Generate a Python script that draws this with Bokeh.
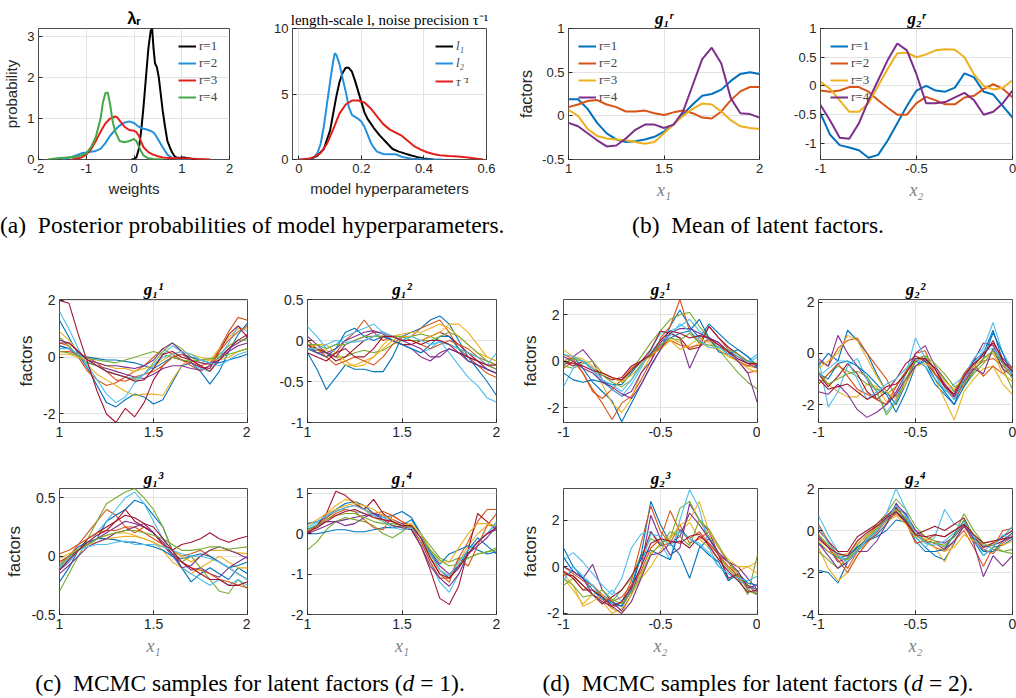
from bokeh.plotting import figure
from bokeh.models import Range1d, Legend, LegendItem, CustomJSTickFormatter, Div, ColumnDataSource
from bokeh.layouts import row, column
from bokeh.embed import file_html
from bokeh.resources import INLINE

# ---------------- data: (a) posterior densities ----------------
LAM1_X = [-0.05, 0.0, 0.05, 0.1, 0.15, 0.2, 0.25, 0.3, 0.35, 0.38, 0.41, 0.44, 0.48, 0.52, 0.56, 0.6, 0.65, 0.7, 0.75, 0.8, 0.85, 0.9, 0.95, 1.0, 1.05, 1.1, 1.2, 1.3]
LAM1_Y = [0, 0.01, 0.05, 0.25, 0.7, 1.3, 2.0, 2.7, 3.15, 3.2, 2.7, 2.35, 2.25, 2.0, 1.6, 1.2, 0.8, 0.45, 0.3, 0.17, 0.08, 0.04, 0.04, 0.05, 0.05, 0.04, 0.02, 0]
LAM2_X = [-1.5, -1.3, -1.1, -0.9, -0.8, -0.7, -0.6, -0.5, -0.4, -0.3, -0.2, -0.1, 0.0, 0.1, 0.2, 0.3, 0.4, 0.45, 0.5, 0.6, 0.7, 0.8, 0.9, 1.0, 1.2]
LAM2_Y = [0, 0.06, 0.15, 0.19, 0.21, 0.26, 0.4, 0.58, 0.72, 0.83, 0.9, 0.93, 0.89, 0.8, 0.75, 0.72, 0.67, 0.6, 0.5, 0.3, 0.12, 0.04, 0.02, 0.01, 0]
LAM3_X = [-1.3, -1.1, -1.0, -0.9, -0.8, -0.7, -0.6, -0.5, -0.4, -0.35, -0.3, -0.2, -0.1, 0.0, 0.05, 0.1, 0.15, 0.2, 0.3, 0.4, 0.5, 0.6, 0.8, 1.0, 1.2, 1.6]
LAM3_Y = [0, 0.05, 0.12, 0.25, 0.45, 0.68, 0.88, 1.0, 1.05, 1.03, 0.95, 0.8, 0.72, 0.7, 0.67, 0.58, 0.43, 0.3, 0.18, 0.12, 0.08, 0.05, 0.03, 0.03, 0.02, 0]
LAM4_X = [-1.8, -1.6, -1.4, -1.2, -1.1, -1.0, -0.9, -0.8, -0.7, -0.65, -0.6, -0.55, -0.5, -0.45, -0.4, -0.3, -0.2, -0.1, 0.0, 0.05, 0.1, 0.15, 0.2, 0.3, 0.4, 0.6]
LAM4_Y = [0, 0.03, 0.05, 0.07, 0.1, 0.15, 0.3, 0.55, 1.0, 1.4, 1.62, 1.64, 1.35, 0.95, 0.7, 0.45, 0.42, 0.45, 0.5, 0.45, 0.32, 0.2, 0.1, 0.03, 0.01, 0]

L1_X = [0.02, 0.04, 0.06, 0.08, 0.1, 0.11, 0.12, 0.13, 0.14, 0.15, 0.16, 0.17, 0.18, 0.19, 0.2, 0.21, 0.22, 0.24, 0.26, 0.28, 0.3, 0.32, 0.34, 0.36, 0.38, 0.4, 0.43]
L1_Y = [0, 0.05, 0.3, 0.8, 2.2, 3.5, 4.8, 5.9, 6.6, 7.0, 7.0, 6.7, 6.0, 5.2, 4.4, 3.6, 3.1, 2.4, 1.8, 1.3, 0.8, 0.6, 0.45, 0.3, 0.18, 0.08, 0]
L2_X = [0.03, 0.05, 0.06, 0.07, 0.08, 0.09, 0.1, 0.11, 0.115, 0.12, 0.13, 0.14, 0.15, 0.16, 0.17, 0.18, 0.19, 0.2, 0.21, 0.22, 0.23, 0.24, 0.25, 0.27, 0.29, 0.31, 0.33, 0.36, 0.4, 0.46]
L2_Y = [0, 0.2, 0.5, 1.2, 2.5, 4.2, 5.9, 7.5, 8.1, 8.0, 7.3, 6.2, 5.2, 4.0, 3.4, 3.25, 3.1, 2.9, 2.5, 1.9, 1.3, 0.9, 0.6, 0.42, 0.4, 0.4, 0.2, 0.05, 0.02, 0]
TAU_X = [0.0, 0.03, 0.05, 0.07, 0.09, 0.11, 0.13, 0.15, 0.17, 0.19, 0.21, 0.23, 0.25, 0.27, 0.29, 0.31, 0.33, 0.35, 0.37, 0.39, 0.41, 0.43, 0.45, 0.48, 0.51, 0.54, 0.57, 0.59]
TAU_Y = [0, 0.05, 0.2, 0.5, 1.2, 2.3, 3.5, 4.2, 4.5, 4.5, 4.35, 3.9, 3.3, 2.7, 2.3, 2.05, 1.8, 1.4, 1.0, 0.75, 0.55, 0.42, 0.33, 0.26, 0.22, 0.15, 0.06, 0]

# ---------------- grids ----------------
X1 = [1.0, 1.05, 1.1, 1.15, 1.2, 1.25, 1.3, 1.35, 1.4, 1.45, 1.5, 1.55, 1.6, 1.65, 1.7, 1.75, 1.8, 1.85, 1.9, 1.95, 2.0]
X2 = [-1.0, -0.95, -0.9, -0.85, -0.8, -0.75, -0.7, -0.65, -0.6, -0.55, -0.5, -0.45, -0.4, -0.35, -0.3, -0.25, -0.2, -0.15, -0.1, -0.05, 0.0]

# ---------------- (b) mean of latent factors ----------------
G1R = [
    [0.19, 0.19, 0.08, -0.08, -0.2, -0.27, -0.3, -0.29, -0.27, -0.24, -0.18, -0.1, 0.02, 0.13, 0.23, 0.25, 0.3, 0.4, 0.48, 0.5, 0.48],
    [0.1, 0.13, 0.17, 0.18, 0.13, 0.1, 0.05, 0.05, 0.06, 0.03, 0.01, 0.04, 0.06, 0.03, -0.02, -0.03, 0.05, 0.18, 0.28, 0.33, 0.33],
    [0.07, 0.0, -0.15, -0.23, -0.26, -0.27, -0.28, -0.3, -0.32, -0.3, -0.2, -0.1, 0.0, 0.08, 0.14, 0.13, 0.05, -0.05, -0.12, -0.14, -0.15],
    [-0.08, -0.12, -0.2, -0.28, -0.35, -0.34, -0.26, -0.16, -0.1, -0.1, -0.14, -0.1, 0.05, 0.35, 0.65, 0.78, 0.6, 0.2, 0.03, 0.02, -0.02],
]
G2R = [
    [-0.48, -0.85, -1.03, -1.07, -1.12, -1.25, -1.2, -0.95, -0.65, -0.35, -0.08, 0.0, -0.08, -0.1, -0.03, 0.22, 0.15, -0.1, -0.15, -0.35, -0.55],
    [-0.08, -0.1, -0.08, -0.02, -0.02, -0.1, -0.25, -0.38, -0.5, -0.5, -0.3, -0.19, -0.25, -0.32, -0.32, -0.2, -0.17, -0.05, 0.03, -0.05, -0.2],
    [0.07, -0.05, -0.25, -0.45, -0.45, -0.3, 0.0, 0.3, 0.57, 0.58, 0.5, 0.55, 0.62, 0.64, 0.63, 0.5, 0.2, 0.0, -0.06, -0.03, 0.1],
    [-0.33, -0.6, -0.9, -0.92, -0.65, -0.25, 0.1, 0.45, 0.74, 0.62, 0.2, -0.3, -0.3, -0.28, -0.2, -0.12, -0.25, -0.5, -0.45, -0.3, -0.08],
]

# ---------------- (c) MCMC samples, d = 1 ----------------
G11 = [
    [1.3, 0.7, 0.1, -0.4, -1.0, -1.6, -1.75, -1.5, -1.3, -1.4, -1.65, -1.5, -0.9, -0.3, -0.2, -0.5, -0.95, -0.5, 0.2, 0.8, 1.2],
    [0.5, 0.4, 0.0, -0.5, -0.8, -1.0, -0.9, -0.7, -0.5, -0.3, 0.0, 0.3, 0.1, -0.1, -0.3, -0.5, -0.3, 0.3, 0.9, 1.4, 1.3],
    [0.9, 0.6, 0.2, -0.3, -0.6, -0.8, -1.0, -1.2, -1.35, -1.3, -1.3, -1.35, -0.8, -0.3, 0.0, -0.2, -0.1, 0.3, 0.7, 1.0, 1.0],
    [0.4, 0.3, 0.0, -0.2, -0.3, -0.4, -0.5, -0.6, -0.7, -0.75, -0.6, -0.4, -0.3, -0.3, -0.4, -0.45, -0.3, 0.0, 0.3, 0.5, 0.7],
    [0.7, 0.4, 0.0, -0.2, -0.3, -0.5, -0.6, -0.7, -0.8, -0.6, -0.2, 0.2, 0.5, 0.3, 0.0, -0.1, -0.2, 0.1, 0.4, 0.6, 0.6],
    [1.6, 1.0, 0.3, -0.3, -0.8, -1.3, -1.6, -1.4, -0.9, -0.6, -0.3, 0.1, 0.4, 0.2, -0.2, -0.4, -0.5, 0.0, 0.5, 1.1, 0.9],
    [2.0, 1.9, 0.8, -0.2, -1.2, -2.0, -2.3, -1.8, -2.1, -1.6, -0.8, -0.3, 0.0, -0.1, -0.2, -0.35, -0.4, 0.2, 0.8, 1.1, 0.7],
    [0.4, 0.3, 0.1, 0.0, -0.05, -0.1, -0.1, -0.15, -0.2, -0.3, -0.4, -0.2, 0.0, 0.1, 0.0, -0.1, -0.2, -0.2, -0.1, 0.0, 0.1],
    [0.2, 0.2, 0.1, 0.0, -0.2, -0.5, -0.8, -0.85, -0.7, -0.6, -0.5, -0.3, 0.0, 0.1, -0.1, -0.3, -0.2, 0.2, 0.6, 0.9, 1.1],
    [0.1, 0.1, 0.0, -0.1, -0.2, -0.3, -0.4, -0.4, -0.5, -0.4, -0.3, -0.1, 0.1, 0.2, 0.1, 0.0, -0.1, -0.1, 0.0, 0.2, 0.3],
    [0.6, 0.5, 0.2, -0.1, -0.2, -0.3, -0.3, -0.35, -0.4, -0.3, -0.1, 0.3, 0.5, 0.2, -0.1, -0.2, -0.25, -0.1, 0.2, 0.4, 0.5],
    [0.2, 0.15, 0.05, -0.05, -0.1, -0.15, -0.2, -0.1, 0.0, 0.1, 0.2, 0.1, 0.0, -0.1, -0.15, -0.1, -0.05, 0.0, 0.1, 0.2, 0.3],
    [0.3, 0.3, 0.1, -0.1, -0.3, -0.5, -0.6, -0.7, -0.75, -0.6, -0.3, 0.0, 0.1, 0.2, 0.1, -0.1, -0.2, -0.3, -0.1, 0.1, 0.2],
    [0.5, 0.5, 0.2, -0.1, -0.3, -0.5, -0.6, -0.7, -0.85, -0.8, -0.4, 0.1, 0.2, 0.0, -0.1, -0.3, -0.5, -0.1, 0.3, 0.6, 0.8],
]
G12 = [
    [-0.15, -0.35, -0.6, -0.45, -0.3, -0.35, -0.35, -0.38, -0.38, -0.2, 0.05, 0.1, 0.15, 0.25, 0.3, 0.2, 0.0, -0.2, -0.35, -0.5, -0.67],
    [-0.1, -0.15, -0.2, -0.15, 0.0, 0.1, 0.25, 0.1, 0.0, 0.05, 0.0, 0.05, 0.15, 0.2, 0.25, 0.1, -0.1, -0.2, -0.3, -0.4, -0.45],
    [-0.05, -0.1, -0.12, -0.2, -0.3, -0.3, -0.25, -0.2, -0.05, 0.05, 0.08, 0.1, 0.1, 0.15, 0.2, 0.15, 0.05, -0.05, -0.15, -0.2, -0.25],
    [0.05, -0.05, -0.15, -0.1, 0.0, 0.05, 0.1, 0.12, 0.08, 0.0, -0.05, -0.1, -0.2, -0.25, -0.15, -0.1, -0.15, -0.2, -0.25, -0.3, -0.35],
    [-0.1, -0.12, -0.15, -0.2, -0.2, -0.15, -0.12, -0.15, -0.12, -0.05, 0.0, 0.05, 0.08, 0.05, 0.0, -0.05, -0.1, -0.15, -0.2, -0.3, -0.35],
    [0.17, 0.05, -0.1, -0.05, 0.05, 0.1, 0.15, 0.2, 0.1, 0.0, -0.05, -0.1, -0.15, -0.1, 0.0, -0.15, -0.3, -0.45, -0.55, -0.7, -0.75],
    [-0.05, -0.1, -0.15, -0.25, -0.2, -0.1, 0.0, 0.05, 0.05, 0.0, -0.05, -0.05, 0.0, 0.05, 0.1, 0.05, -0.05, -0.15, -0.25, -0.35, -0.4],
    [-0.1, -0.15, -0.2, -0.1, 0.1, 0.15, 0.05, 0.0, 0.05, 0.0, -0.05, -0.1, -0.15, -0.05, 0.05, 0.05, -0.1, -0.25, -0.3, -0.35, -0.4],
    [0.0, -0.1, -0.2, -0.3, -0.25, -0.2, -0.25, -0.3, -0.2, -0.05, 0.05, 0.0, -0.05, -0.1, -0.05, 0.0, -0.05, -0.1, -0.2, -0.25, -0.3],
    [-0.1, -0.05, -0.05, -0.15, -0.25, -0.32, -0.3, -0.2, -0.1, 0.0, 0.05, 0.05, 0.0, 0.05, 0.1, 0.2, 0.2, 0.1, -0.05, -0.2, -0.25],
    [-0.05, -0.15, -0.15, -0.2, -0.05, 0.0, 0.05, 0.1, 0.1, 0.05, 0.0, -0.05, -0.1, -0.2, -0.2, -0.1, -0.15, -0.25, -0.3, -0.35, -0.4],
    [-0.05, -0.05, -0.1, -0.05, -0.05, 0.0, 0.05, 0.05, 0.05, 0.05, 0.05, 0.0, 0.0, 0.0, 0.05, 0.1, 0.05, -0.05, -0.15, -0.25, -0.3],
    [-0.1, -0.1, -0.05, 0.0, -0.02, -0.02, 0.0, 0.05, 0.1, 0.05, 0.0, 0.05, 0.0, -0.05, -0.02, -0.05, -0.1, -0.15, -0.2, -0.3, -0.15],
    [-0.15, -0.2, -0.25, -0.15, -0.1, -0.2, -0.2, -0.1, 0.05, 0.05, 0.0, 0.0, -0.05, 0.0, 0.0, -0.05, -0.15, -0.2, -0.25, -0.3, -0.3],
]
G13 = [
    [-0.22, -0.1, 0.05, 0.1, 0.15, 0.3, 0.35, 0.4, 0.48, 0.45, 0.35, 0.25, 0.05, -0.1, -0.22, -0.15, -0.1, -0.15, -0.2, -0.1, -0.15],
    [0.02, 0.05, 0.1, 0.2, 0.3, 0.4, 0.35, 0.25, 0.2, 0.25, 0.2, 0.1, 0.05, 0.0, 0.02, 0.05, 0.0, -0.05, -0.1, -0.15, -0.2],
    [-0.1, 0.0, 0.05, 0.1, 0.15, 0.18, 0.2, 0.2, 0.18, 0.15, 0.12, 0.05, -0.05, -0.1, -0.15, -0.1, -0.05, 0.0, -0.05, -0.1, -0.1],
    [-0.12, -0.05, 0.05, 0.1, 0.15, 0.2, 0.25, 0.3, 0.28, 0.25, 0.2, 0.1, 0.0, -0.05, -0.12, -0.1, -0.15, -0.18, -0.1, -0.05, 0.0],
    [-0.3, -0.15, 0.0, 0.15, 0.3, 0.45, 0.5, 0.55, 0.58, 0.5, 0.4, 0.25, 0.05, -0.05, 0.0, -0.1, -0.2, -0.3, -0.32, -0.2, -0.28],
    [-0.1, -0.05, 0.05, 0.1, 0.2, 0.3, 0.4, 0.5, 0.55, 0.45, 0.3, 0.15, 0.0, -0.1, -0.15, -0.2, -0.25, -0.2, -0.25, -0.2, -0.25],
    [-0.05, 0.0, 0.05, 0.15, 0.2, 0.25, 0.3, 0.4, 0.3, 0.25, 0.2, 0.1, 0.05, 0.1, 0.12, 0.15, 0.2, 0.15, 0.12, 0.15, 0.17],
    [-0.08, 0.0, 0.08, 0.12, 0.15, 0.15, 0.14, 0.12, 0.12, 0.1, 0.08, 0.05, 0.0, -0.02, 0.0, 0.02, 0.0, -0.05, -0.1, -0.08, -0.05],
    [-0.05, 0.0, 0.1, 0.15, 0.2, 0.22, 0.22, 0.25, 0.25, 0.2, 0.15, 0.1, 0.02, -0.05, -0.1, -0.12, -0.15, -0.2, -0.22, -0.25, -0.27],
    [-0.02, 0.02, 0.06, 0.1, 0.12, 0.15, 0.16, 0.17, 0.17, 0.15, 0.12, 0.08, 0.05, 0.0, -0.05, 0.0, 0.05, 0.05, 0.05, 0.03, 0.02],
    [-0.15, -0.08, 0.0, 0.08, 0.12, 0.15, 0.2, 0.22, 0.25, 0.28, 0.2, 0.12, 0.02, -0.1, -0.08, 0.0, 0.05, 0.08, 0.05, 0.02, -0.02],
    [-0.08, 0.0, 0.06, 0.1, 0.15, 0.18, 0.2, 0.22, 0.22, 0.2, 0.18, 0.15, 0.1, 0.05, 0.05, 0.06, 0.08, 0.08, 0.06, 0.07, 0.08],
    [-0.1, -0.02, 0.05, 0.08, 0.1, 0.1, 0.12, 0.13, 0.1, 0.1, 0.1, 0.08, 0.05, 0.02, 0.0, 0.0, -0.02, -0.05, -0.1, -0.15, -0.2],
    [-0.12, -0.03, 0.05, 0.12, 0.18, 0.22, 0.3, 0.35, 0.33, 0.28, 0.25, 0.15, 0.05, -0.05, -0.1, -0.15, -0.2, -0.2, -0.25, -0.25, -0.22],
]
G14 = [
    [0.25, 0.3, 0.4, 0.6, 0.75, 0.8, 0.7, 0.5, 0.4, 0.45, 0.55, 0.4, 0.0, -0.5, -0.9, -1.1, -0.8, -0.4, -0.1, -0.3, -0.5],
    [0.1, 0.2, 0.4, 0.55, 0.65, 0.7, 0.6, 0.5, 0.55, 0.45, 0.3, 0.2, -0.1, -0.6, -1.0, -1.2, -0.6, -0.2, 0.3, 0.6, 0.6],
    [0.0, 0.2, 0.5, 0.7, 0.85, 0.8, 0.6, 0.4, 0.3, 0.2, 0.15, 0.1, -0.2, -0.6, -0.9, -1.05, -0.7, -0.3, 0.0, 0.2, 0.2],
    [0.0, 0.1, 0.2, 0.3, 0.35, 0.4, 0.45, 0.5, 0.45, 0.35, 0.25, 0.2, -0.1, -0.5, -0.8, -1.0, -0.8, -0.5, -0.2, 0.0, 0.1],
    [-0.4, -0.2, 0.1, 0.3, 0.4, 0.35, 0.3, 0.2, 0.0, -0.1, 0.05, 0.2, 0.0, -0.3, -0.6, -0.7, -0.6, -0.6, -0.5, -0.45, -0.4],
    [0.1, 0.25, 0.45, 0.6, 0.6, 0.55, 0.5, 0.45, 0.4, 0.3, 0.2, 0.15, -0.2, -0.7, -1.2, -1.45, -1.0, -0.5, -0.2, 0.0, 0.25],
    [0.0, 0.2, 0.5, 1.05, 0.95, 0.75, 0.6, 0.85, 0.5, 0.3, 0.2, 0.1, -0.3, -0.9, -1.6, -1.75, -1.3, -0.4, 0.5, 0.3, 0.1],
    [0.0, 0.0, 0.05, 0.1, 0.1, 0.05, 0.05, 0.1, 0.15, 0.15, 0.2, 0.35, 0.0, -0.45, -0.75, -0.5, -0.4, -0.3, -0.4, -0.5, -0.45],
    [0.05, 0.15, 0.35, 0.5, 0.6, 0.55, 0.35, 0.15, 0.1, 0.45, 0.3, 0.15, -0.2, -0.7, -1.1, -1.1, -0.6, -0.8, -0.3, 0.2, 0.5],
    [0.2, 0.35, 0.5, 0.6, 0.7, 0.75, 0.7, 0.6, 0.45, 0.35, 0.2, 0.25, 0.0, -0.4, -0.7, -0.7, -0.35, 0.0, 0.25, 0.25, 0.2],
    [0.1, 0.2, 0.3, 0.3, 0.2, 0.25, 0.4, 0.5, 0.35, 0.2, 0.15, 0.1, -0.3, -0.8, -1.1, -1.3, -1.0, -0.5, -0.3, -0.1, 0.2],
    [0.1, 0.2, 0.35, 0.45, 0.5, 0.5, 0.4, 0.3, 0.25, 0.25, 0.2, 0.15, -0.1, -0.4, -0.65, -0.8, -0.75, -0.6, -0.5, -0.45, -0.35],
    [0.15, 0.3, 0.45, 0.55, 0.65, 0.7, 0.6, 0.45, 0.3, 0.15, 0.1, 0.15, -0.1, -0.5, -0.9, -1.05, -0.7, -0.4, -0.2, 0.0, 0.3],
    [0.05, 0.15, 0.3, 0.45, 0.55, 0.6, 0.5, 0.4, 0.35, 0.3, 0.2, 0.2, -0.1, -0.6, -1.0, -1.1, -0.85, -0.5, -0.2, 0.0, 0.15],
]

# ---------------- (d) MCMC samples, d = 2 ----------------
G21 = [
    [0.0, 0.2, -0.3, -0.9, -1.3, -1.7, -2.6, -1.8, -1.0, -0.2, 0.5, 1.5, 2.2, 1.5, 1.0, 1.6, 1.2, 0.8, 0.5, 0.2, -0.3],
    [-0.3, 0.0, -0.5, -1.2, -1.8, -2.5, -1.8, -1.5, -0.8, 0.0, 1.0, 1.5, 2.65, 1.3, 0.8, 1.5, 1.0, 0.5, 0.0, -0.5, -0.4],
    [0.5, 0.2, 0.0, -0.3, -1.0, -1.8, -2.2, -1.6, -0.5, 0.2, 0.6, 1.0, 0.8, 0.5, 0.8, 0.6, 0.5, 0.2, 0.0, -0.2, -0.3],
    [-0.2, 0.2, 0.5, 0.0, -0.8, -1.2, -1.5, -1.3, -0.5, 0.0, 0.8, 1.2, 1.0, -0.3, 0.6, 1.0, 0.8, 0.4, 0.2, -0.1, -0.3],
    [-0.2, -0.3, -0.1, 0.0, -0.5, -0.7, -0.9, -0.4, 0.2, 0.8, 1.3, 1.8, 2.0, 2.1, 1.5, 1.0, 0.5, 0.0, -0.5, -0.9, -1.2],
    [-1.1, -0.3, 0.0, -0.4, -0.9, -1.2, -1.5, -1.0, -0.3, 0.5, 1.2, 1.3, 1.5, 1.8, 1.3, 0.9, 0.6, 0.5, 0.2, 0.0, 0.3],
    [0.0, -0.2, 0.0, -0.3, -0.6, -0.8, -0.7, -0.2, 0.0, 0.5, 1.3, 1.2, 1.0, 0.5, 0.6, 1.5, 1.0, 0.6, 0.3, 0.0, -0.2],
    [-0.5, -0.8, -0.9, -0.8, -0.9, -1.0, -1.0, -0.5, 0.0, 0.3, 0.7, 1.0, 1.2, 1.3, 1.8, 1.0, 0.4, 0.3, 0.5, 0.2, -0.2],
    [0.3, 0.1, -0.5, -1.3, -1.6, -1.2, -0.8, -0.3, 0.0, 0.2, 0.6, 0.9, 0.7, 0.6, 0.7, 0.9, 0.7, 0.3, 0.0, -0.2, -0.1],
    [0.0, 0.2, 0.1, -0.2, -0.5, -0.7, -0.9, -0.6, -0.2, 0.3, 0.5, 0.9, 0.5, 0.7, 1.0, 0.8, 0.5, 0.2, 0.0, -0.3, -0.5],
    [0.2, 0.0, -0.3, -0.5, -0.9, -1.1, -1.4, -1.6, -1.0, -0.2, 0.5, 1.2, 1.4, 1.4, 1.2, 1.0, 0.8, 0.4, 0.0, -0.5, -1.8],
    [-0.1, 0.1, 0.0, -0.3, -0.6, -0.9, -1.1, -0.8, -0.1, 0.3, 0.7, 1.0, 0.9, 1.2, 0.8, 0.7, 0.6, 0.5, 0.3, 0.0, -0.1],
    [0.3, 0.2, 0.0, -0.3, -0.8, -1.0, -1.3, -0.8, -0.2, 0.4, 0.9, 1.1, 1.6, 1.3, 0.9, 0.6, 0.6, 0.3, 0.1, -0.1, 0.2],
    [0.0, -0.1, -0.2, -0.4, -0.5, -0.7, -0.8, -0.4, 0.0, 0.3, 0.9, 1.3, 1.2, 1.0, 1.1, 1.0, 0.7, 0.4, 0.1, -0.1, -0.1],
]
G22 = [
    [-0.5, 0.0, -0.3, 0.9, 0.5, 0.0, -0.8, -1.5, -2.0, -1.2, -0.3, -0.5, -1.2, -1.6, -2.0, -1.0, -0.3, 0.0, 0.9, -0.3, -0.8],
    [-0.3, -0.5, 0.2, 0.5, 0.6, 0.0, -0.5, -1.0, -1.7, -1.2, 0.0, 0.1, -0.8, -1.3, -1.8, -1.2, -0.6, -0.3, -0.2, -0.5, -0.8],
    [-0.8, -1.2, -1.5, -1.7, -1.7, -1.2, -1.3, -1.9, -1.6, -1.0, -0.5, -0.3, -1.0, -1.8, -2.6, -1.5, -1.0, -0.6, -0.5, -1.2, -1.6],
    [-0.2, -0.5, 0.7, 0.0, -0.5, -1.0, -1.8, -2.0, -1.5, -0.8, 0.0, 0.3, -0.5, -1.0, -1.5, -0.8, -0.3, 0.4, 0.3, -0.4, -0.7],
    [-1.2, -0.8, -0.5, -0.7, -0.9, -1.2, -1.4, -1.6, -1.3, -0.7, -0.2, -0.1, -0.6, -1.0, -1.5, -1.3, -0.8, -0.4, 0.1, -0.6, -1.4],
    [-0.2, -2.1, -1.5, -0.5, -0.2, -1.0, -1.5, -2.3, -1.8, -0.8, 0.6, -0.2, -0.8, -1.5, -1.2, -0.9, -0.2, 0.2, 1.2, 0.0, -0.6],
    [-0.8, -1.3, -0.9, -0.4, -0.8, -1.5, -1.8, -1.5, -1.0, -0.4, -0.1, -0.3, -0.8, -1.2, -1.7, -1.0, -0.5, 0.0, 0.4, -0.2, -0.6],
    [-0.8, -1.0, -0.4, -0.3, -0.5, -0.8, -1.2, -1.6, -2.3, -1.5, -0.5, -0.3, -1.0, -1.5, -2.0, -1.3, -0.7, -0.2, 0.8, 0.0, -0.9],
    [-1.2, -0.8, -0.4, -0.9, -1.4, -1.6, -1.8, -2.0, -1.3, -0.7, -0.3, -0.2, -0.8, -1.2, -1.6, -0.8, -0.4, -0.9, -0.5, -0.8, -0.5],
    [-0.6, -0.3, 0.0, 0.7, 0.5, -0.2, -0.9, -1.5, -1.8, -1.2, -0.5, -0.4, -0.6, -1.1, -1.4, -0.9, -0.5, -0.2, 0.0, -0.8, -1.1],
    [-1.5, -1.6, -1.2, -1.6, -2.2, -2.5, -2.3, -2.0, -1.6, -1.0, -0.5, -0.2, -0.6, -1.2, -1.7, -1.1, -0.6, -0.8, 0.2, -0.6, -0.9],
    [-0.7, -1.2, -1.0, -0.8, -0.7, -0.9, -1.5, -2.4, -1.9, -1.0, -0.3, -0.1, -0.4, -0.8, -1.3, -1.2, -0.7, -0.2, 0.1, -0.4, -1.0],
    [-0.9, -0.6, -0.3, -0.3, -1.0, -1.8, -1.5, -1.2, -1.0, -0.6, -0.2, -0.5, -1.0, -1.4, -1.8, -1.0, -0.4, 0.1, 0.2, -0.3, -0.8],
    [-1.0, -1.4, -1.3, -1.2, -1.5, -1.8, -1.6, -1.3, -1.2, -0.8, -0.2, -0.2, -0.6, -1.3, -1.6, -0.9, -0.4, -0.1, 0.5, -0.3, -0.7],
]
G23 = [
    [0.8, 0.0, -0.5, -0.8, -1.3, -1.6, -1.7, -0.8, 0.5, 2.8, 1.8, 1.0, 0.5, -0.5, 0.8, 1.2, 0.5, -0.6, -0.3, -0.8, -1.0],
    [-0.2, -0.4, -0.8, -1.2, -1.4, -1.8, -1.5, -0.6, 1.0, 2.6, 1.5, 1.0, 1.8, 1.0, 1.2, 1.5, 0.8, 0.2, -0.5, -0.8, -1.2],
    [-0.5, -1.0, -1.6, -1.2, -1.5, -2.0, -1.8, -1.0, -0.3, 0.5, 1.0, 1.3, 1.5, 1.9, 1.2, 0.8, 0.3, 0.0, -0.2, 0.0, 0.2],
    [-0.4, -0.2, -0.5, 0.1, -1.0, -1.5, -1.9, -1.2, 0.0, 2.2, 1.2, 0.5, 0.8, 2.7, 2.0, 1.5, 0.5, 0.2, 0.0, -0.5, -1.0],
    [-0.8, -0.5, -1.0, -0.8, -1.3, -1.5, -1.0, -0.5, 0.5, 1.2, 1.0, 1.2, 2.5, 2.8, 2.0, 1.3, 0.5, -0.1, -0.5, -1.2, 0.5],
    [0.3, 0.6, 0.2, -0.3, -0.8, -1.2, -0.5, 0.8, 1.4, 1.5, 1.0, 0.3, 2.0, 3.3, 2.5, 0.8, 0.0, -0.3, -0.6, -0.8, -1.2],
    [-0.3, -0.4, -0.8, -1.2, -1.6, -1.3, -1.0, -0.4, 0.3, 1.5, 0.9, 1.0, 1.1, 0.8, 1.3, 1.0, 0.5, -0.5, -0.3, -1.0, -1.2],
    [0.4, -0.2, -0.5, -1.0, -1.4, -1.5, -1.7, -1.0, 0.5, 0.7, 0.5, 0.3, 1.6, 1.2, 0.9, 0.5, 0.2, -0.6, -0.3, -0.7, -0.8],
    [0.0, -0.3, -0.6, -0.8, -1.2, -1.5, -1.3, -0.8, -0.2, 0.8, 1.2, 2.4, 1.5, 1.2, 1.5, 1.0, 0.5, 0.0, -0.4, -0.8, -1.1],
    [-0.3, -0.8, -1.7, -1.5, -1.2, -1.8, -2.0, -1.2, -0.5, 0.0, 0.7, 1.2, 1.8, 2.0, 2.8, 1.5, 0.8, 0.3, 0.0, 0.0, -0.3],
    [0.0, -0.2, -0.5, -1.2, -1.5, -1.7, -2.0, -1.5, -0.5, 0.5, 0.6, 1.0, 1.3, 2.3, 1.8, 1.2, 0.6, 0.2, -0.2, -0.9, -0.8],
    [-0.5, -0.8, -1.3, -1.2, -1.0, -1.4, -1.6, -1.1, -0.4, 0.6, 0.9, 1.5, 1.3, 0.9, 2.0, 1.6, 0.9, 0.2, -0.3, -1.0, -1.2],
    [-0.6, 0.0, -0.4, -0.8, -1.4, -1.0, -1.5, -0.9, 0.0, 1.4, 1.3, 0.9, 1.5, 1.2, 1.0, 0.6, 0.0, -0.3, -0.5, -0.6, -0.4],
    [-0.2, -0.5, -1.0, -1.0, -1.3, -1.7, -1.5, -0.9, 0.0, 1.0, 1.2, 1.1, 1.0, 1.3, 1.4, 0.9, 0.3, -0.2, -0.6, -1.1, -1.0],
]
G24 = [
    [-1.9, -2.0, -2.5, -1.5, -1.0, -0.5, -0.3, 0.0, 0.5, 0.4, -0.3, -0.8, -1.2, -1.4, -0.6, 0.3, -0.5, -1.2, -0.8, -0.7, -0.4],
    [0.3, -0.5, -1.2, -1.8, -1.0, -0.3, 0.2, 0.5, 1.0, 0.8, 0.0, -0.5, -0.8, -1.0, -0.5, 0.0, -0.8, -1.7, -0.8, 0.0, 0.1],
    [-0.8, -1.8, -2.4, -2.0, -1.2, -0.5, 0.0, 0.4, 0.9, 0.5, -0.2, -0.6, -0.8, -1.5, -0.5, 0.2, -0.4, -0.8, -0.6, -0.4, -0.2],
    [-0.3, -0.8, -1.5, -1.3, -0.8, -0.4, 0.0, 0.6, 1.2, 0.8, 0.0, -0.3, -0.5, -0.6, -0.3, 0.3, -0.6, -2.2, -1.2, -1.7, -1.2],
    [-1.0, -1.4, -1.8, -1.3, -0.7, -0.2, 0.3, 0.8, 1.5, 1.0, 0.2, -0.3, -0.5, -0.8, -0.2, 0.8, 0.0, -0.6, -0.9, -1.0, -1.1],
    [0.7, -0.2, -1.0, -1.5, -0.9, -0.5, 0.0, 0.8, 2.0, 1.0, -0.3, -0.8, -0.3, 1.0, 0.3, 0.2, -0.4, -1.0, -0.6, -0.3, 0.2],
    [0.0, -0.5, -1.0, -1.0, -0.3, 0.0, 0.3, 0.7, 1.1, 0.5, -0.2, 0.0, 0.2, 0.0, 0.3, 0.6, -0.3, -0.8, -0.6, -0.3, 0.0],
    [-0.6, -1.0, -1.3, -1.2, -0.8, -0.5, -0.2, 0.3, 0.9, 0.5, -0.5, -1.0, -1.0, -0.9, -0.2, 0.5, -0.4, -1.0, -1.0, -0.5, -0.1],
    [-0.2, -0.8, -1.4, -2.0, -1.2, -0.6, -0.1, 0.5, 0.8, 0.4, -0.6, -0.5, -0.2, -0.3, 0.0, 0.2, -0.5, -0.9, -1.1, -0.6, -0.3],
    [-0.5, -1.0, -1.2, -1.1, -0.6, -0.3, 0.1, 0.4, 0.7, 0.3, -0.3, -0.4, -0.5, -1.0, -0.8, -0.2, -0.5, -0.6, -0.5, -0.7, -0.5],
    [-0.6, -1.2, -1.8, -1.5, -1.0, -1.0, -0.5, 0.3, 1.3, 0.7, -0.2, -0.5, -0.6, -0.9, -0.5, 0.2, -0.3, -0.8, -0.7, -0.5, -0.3],
    [-0.2, -0.7, -1.3, -1.4, -0.9, -0.4, 0.1, 0.6, 1.0, 0.6, -0.2, -0.5, -0.6, -0.7, -0.3, 0.5, -0.2, -0.7, -0.7, -1.0, -0.9],
    [0.2, -0.6, -1.2, -1.5, -1.0, -0.4, 0.0, 0.5, 1.2, 0.7, -0.1, -0.6, -0.7, -0.5, -0.1, 0.4, -0.3, -1.2, -0.8, -0.2, -0.4],
    [-0.4, -0.8, -1.1, -1.2, -0.5, -0.1, 0.2, 0.6, 0.9, 0.4, -0.2, -0.3, -0.2, -0.3, 0.0, 0.3, -0.2, -0.6, -0.5, -0.4, -0.3],
]

MATLAB = ["#0072BD", "#D95319", "#EDB120", "#7E2F8E", "#77AC30", "#4DBEEE", "#A2142F"]
AXC = "#262626"
SANS = "Liberation Sans"
SERIF = "Liberation Serif"


def mk(w, h, l, r, t, b, xr, yr, xt, yt, title=None, title_font=SERIF, title_style="bold italic",
       title_size="17px", xlabel=None, xlabel_math=False, ylabel=None, tick_fs="13px", lab_fs="16px"):
    p = figure(width=w, height=h, x_range=Range1d(*xr), y_range=Range1d(*yr),
               output_backend="svg", toolbar_location=None,
               min_border_left=l, min_border_right=r, min_border_top=t, min_border_bottom=b)
    p.background_fill_color = "white"
    p.border_fill_color = "white"
    p.outline_line_color = "#4d4d4d"
    p.outline_line_width = 1
    fmt = CustomJSTickFormatter(code="return String(Math.round(tick*1000)/1000);")
    p.xaxis.ticker = xt
    p.yaxis.ticker = yt
    for ax in (p.xaxis[0], p.yaxis[0]):
        ax.formatter = fmt
        ax.axis_line_color = None
        ax.major_tick_in = 4
        ax.major_tick_out = 0
        ax.minor_tick_line_color = None
        ax.major_tick_line_color = AXC
        ax.major_label_text_font = SANS
        ax.major_label_text_font_size = tick_fs
        ax.major_label_text_color = AXC
        ax.major_label_standoff = 4
        ax.axis_label_standoff = 4
        ax.axis_label_text_font_style = "normal"
        ax.axis_label_text_color = AXC
        ax.axis_label_text_font = SANS
        ax.axis_label_text_font_size = lab_fs
    p.grid.grid_line_color = "#e3e3e3"
    p.grid.grid_line_width = 1
    if xlabel:
        p.xaxis.axis_label = xlabel
        if xlabel_math:
            p.xaxis.axis_label_text_font = SERIF
            p.xaxis.axis_label_text_font_style = "italic"
            p.xaxis.axis_label_text_color = "#7f7f7f"
            p.xaxis.axis_label_text_font_size = "18px"
    if ylabel:
        p.yaxis.axis_label = ylabel
    if title:
        p.title.text = title
        p.title.align = "center"
        p.title.text_font = title_font
        p.title.text_font_style = title_style
        p.title.text_font_size = title_size
        p.title.text_color = "#000000"
        p.title.standoff = 1
    return p


def add_legend(p, items, loc, font=SERIF, style="normal"):
    lg = Legend(items=items, location=loc, background_fill_alpha=0, border_line_alpha=0,
                label_text_font=font, label_text_font_style=style, label_text_font_size="13px",
                glyph_width=18, glyph_height=14, label_height=14, spacing=1, padding=4,
                margin=6, label_standoff=3)
    p.add_layout(lg)


# ---------- (a) left: lambda_r ----------
pa1 = mk(250, 210, 36, 21, 28, 51, (-2, 2), (0, 3.2), [-2, -1, 0, 1, 2], [0, 1, 2, 3],
         title="λᵣ", title_font=SANS, title_style="bold", title_size="17px",
         xlabel="weights", ylabel="probability", tick_fs="13px", lab_fs="15px")
lam_cols = ["#000000", "#2291e0", "#e3201c", "#43a846"]
its = []
for i, (xx, yy) in enumerate([(LAM1_X, LAM1_Y), (LAM2_X, LAM2_Y), (LAM3_X, LAM3_Y), (LAM4_X, LAM4_Y)]):
    r = pa1.line(xx, yy, line_color=lam_cols[i], line_width=2)
    its.append(LegendItem(label="r=%d" % (i + 1), renderers=[r]))
add_legend(pa1, its, "top_right")

# ---------- (a) right: length-scales and noise ----------
pa2 = mk(250, 210, 42, 14, 28, 51, (-0.02, 0.6), (0, 10), [0, 0.2, 0.4, 0.6], [0, 5, 10],
         title="length-scale l, noise precision τ⁻¹", title_font=SERIF, title_style="normal",
         title_size="15px", xlabel="model hyperparameters", tick_fs="13px", lab_fs="15px")
its = []
for lab, xx, yy, c in [("l₁", L1_X, L1_Y, "#000000"), ("l₂", L2_X, L2_Y, "#2291e0"), ("τ⁻¹", TAU_X, TAU_Y, "#e3201c")]:
    r = pa2.line(xx, yy, line_color=c, line_width=2)
    its.append(LegendItem(label=lab, renderers=[r]))
add_legend(pa2, its, "top_right", style="italic")

# ---------- (b) mean of latent factors ----------
pb1 = mk(264, 210, 68, 5, 24, 47, (1, 2), (-0.5, 1), [1, 1.5, 2], [-0.5, 0, 0.5, 1],
         title="g₁ʳ", xlabel="x₁", xlabel_math=True, ylabel="factors", tick_fs="13px", lab_fs="16px")
its = []
for i, yy in enumerate(G1R):
    r = pb1.line(X1, yy, line_color=MATLAB[i], line_width=2)
    its.append(LegendItem(label="r=%d" % (i + 1), renderers=[r]))
add_legend(pb1, its, "top_left")

pb2 = mk(252, 210, 56, 4, 24, 47, (-1, 0), (-1.28, 1), [-1, -0.5, 0], [-1, -0.5, 0, 0.5, 1],
         title="g₂ʳ", xlabel="x₂", xlabel_math=True, tick_fs="13px")
its = []
for i, yy in enumerate(G2R):
    r = pb2.line(X2, yy, line_color=MATLAB[i], line_width=2)
    its.append(LegendItem(label="r=%d" % (i + 1), renderers=[r]))
add_legend(pb2, its, "top_left")


def samples(p, xg, data):
    src = ColumnDataSource(dict(xs=[xg] * len(data), ys=data,
                                c=[MATLAB[i % 7] for i in range(len(data))]))
    p.multi_line(xs="xs", ys="ys", line_color="c", line_width=1.1, source=src)


# ---------- (c) ----------
pc1 = mk(250, 215, 59, 3, 59, 27, (1, 2), (-2.3, 2.03), [1, 1.5, 2], [-2, 0, 2],
         title="g₁¹", ylabel="factors", tick_fs="14px", lab_fs="17px")
samples(pc1, X1, G11)
pc2 = mk(250, 215, 57, 4, 59, 26, (1, 2), (-1, 0.5), [1, 1.5, 2], [-1, -0.5, 0, 0.5],
         title="g₁²", tick_fs="14px")
samples(pc2, X1, G12)
pc3 = mk(250, 213, 59, 3, 32, 51, (1, 2), (-0.5, 0.58), [1, 1.5, 2], [-0.5, 0, 0.5],
         title="g₁³", xlabel="x₁", xlabel_math=True, ylabel="factors", tick_fs="14px", lab_fs="17px")
samples(pc3, X1, G13)
pc4 = mk(250, 213, 57, 4, 33, 51, (1, 2), (-2, 1.12), [1, 1.5, 2], [-2, -1, 0, 1],
         title="g₁⁴", xlabel="x₁", xlabel_math=True, tick_fs="14px")
samples(pc4, X1, G14)

# ---------- (d) ----------
pd1 = mk(260, 215, 63, 3, 49, 33, (-1, 0), (-2.63, 2.65), [-1, -0.5, 0], [-2, 0, 2],
         title="g₂¹", ylabel="factors", tick_fs="14px", lab_fs="17px")
samples(pd1, X2, G21)
pd2 = mk(256, 215, 58, 4, 49, 33, (-1, 0), (-2.7, 2.1), [-1, -0.5, 0], [-2, 0, 2],
         title="g₂²", tick_fs="14px")
samples(pd2, X2, G22)
pd3 = mk(260, 213, 63, 3, 28, 54, (-1, 0), (-2.05, 3.35), [-1, -0.5, 0], [-2, 0, 2],
         title="g₂³", xlabel="x₂", xlabel_math=True, ylabel="factors", tick_fs="14px", lab_fs="17px")
samples(pd3, X2, G23)
pd4 = mk(256, 213, 58, 4, 28, 52, (-1, 0), (-4, 2), [-1, -0.5, 0], [-4, -2, 0, 2],
         title="g₂⁴", xlabel="x₂", xlabel_math=True, tick_fs="14px")
samples(pd4, X2, G24)


def cap(text, w, h):
    return Div(text=text, width=w, height=h, margin=0,
               styles={"font-family": "'Liberation Serif', serif", "font-size": "23.5px",
                       "text-align": "center", "color": "#000", "line-height": "%dpx" % h,
                       "white-space": "nowrap", "overflow": "visible"})


cap1 = row(cap("(a)&nbsp; Posterior probabilities of model hyperparameters.", 500, 30),
           cap("(b)&nbsp; Mean of latent factors.", 516, 30), spacing=0)
cap2 = row(cap("(c)&nbsp; MCMC samples for latent factors (<i>d</i> = 1).", 500, 30),
           cap("(d)&nbsp; MCMC samples for latent factors (<i>d</i> = 2).", 516, 30), spacing=0)

layout = column(
    row(pa1, pa2, pb1, pb2, spacing=0),
    cap1,
    row(pc1, pc2, pd1, pd2, spacing=0),
    row(pc3, pc4, pd3, pd4, spacing=0),
    cap2,
    spacing=0,
)

open("out.html", "w").write(file_html(layout, INLINE))
